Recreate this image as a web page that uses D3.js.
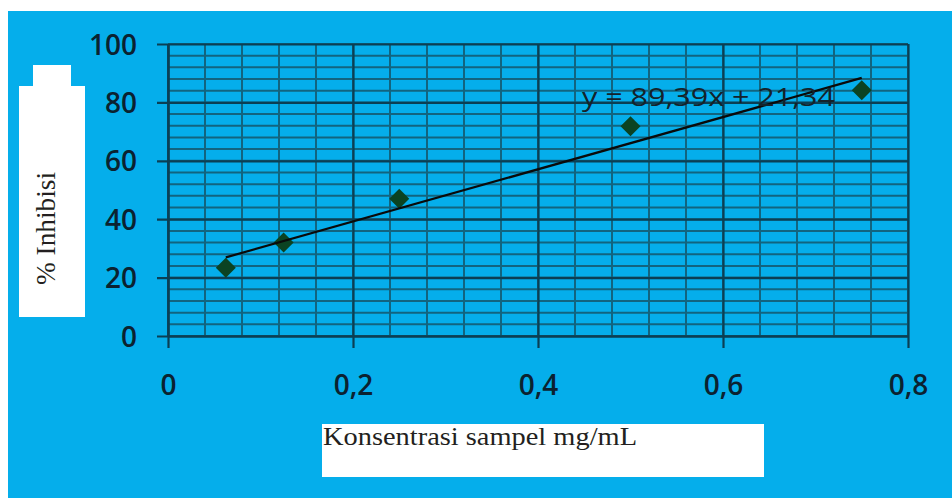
<!DOCTYPE html>
<html>
<head>
<meta charset="utf-8">
<script src="https://cdn.jsdelivr.net/npm/d3@7"></script>
<style>
  html, body { margin: 0; padding: 0; background: #ffffff; }
  svg { display: block; }
</style>
</head>
<body>
<script>
// ---- data ----
const concentrations = [0.0625, 0.125, 0.25, 0.5, 0.75];
const inhibition = [23.4, 32.0, 47.0, 71.8, 84.2];
const trendSlope = 89.39;
const trendIntercept = 21.34;
const equationLabel = "y = 89,39x + 21,34";
const xTickValues = [0, 0.2, 0.4, 0.6, 0.8];
const xTickLabels = ["0", "0,2", "0,4", "0,6", "0,8"];
const yTickValues = [0, 20, 40, 60, 80, 100];
const yTickLabels = ["0", "20", "40", "60", "80", "100"];
const xMinorStep = 0.04;
const yMinorStep = 4;
const xTitle = "Konsentrasi sampel mg/mL";
const yTitle = "% Inhibisi";

(function () {
// ---- layout ----
const W = 952, H = 498;
const pL = 168, pR = 908, pT = 44, pB = 336;

const svg = d3.select("body").append("svg").attr("width", W).attr("height", H);
svg.append("rect").attr("x", 0).attr("y", 0).attr("width", W).attr("height", H).attr("fill", "#ffffff");
svg.append("rect").attr("x", 8).attr("y", 11).attr("width", W - 8).attr("height", H - 11).attr("fill", "#05aeeb");

const x = d3.scaleLinear().domain([0, 0.8]).range([pL, pR]);
const y = d3.scaleLinear().domain([0, 100]).range([pB, pT]);

const minorColor = "#12647f";
const majorColor = "#0b3f54";

// minor grid
const xMinor = d3.range(0, 0.8 + 1e-9, xMinorStep);
const yMinor = d3.range(0, 100 + 1e-9, yMinorStep);
svg.append("g").selectAll("line").data(xMinor).join("line")
  .attr("x1", d => x(d)).attr("x2", d => x(d))
  .attr("y1", pT).attr("y2", pB)
  .attr("stroke", minorColor).attr("stroke-width", 2);
svg.append("g").selectAll("line").data(yMinor).join("line")
  .attr("x1", pL).attr("x2", pR)
  .attr("y1", d => y(d)).attr("y2", d => y(d))
  .attr("stroke", minorColor).attr("stroke-width", 2);

// major axes / grid
const yAxis = d3.axisLeft(y).tickValues(yTickValues)
  .tickFormat((d, i) => yTickLabels[i]).tickSizeOuter(0).tickPadding(0);
const gy = svg.append("g").attr("transform", `translate(${pL},0)`).call(yAxis);
gy.select(".domain").attr("stroke", majorColor).attr("stroke-width", 2.2);
gy.selectAll(".tick line").attr("x1", -11).attr("x2", pR - pL)
  .attr("stroke", majorColor).attr("stroke-width", 2.2);
gy.selectAll(".tick text").attr("x", -31).attr("dy", "0.36em")
  .attr("fill", "#0b2230").attr("font-family", "'Open Sans', sans-serif")
  .attr("font-size", 28).attr("font-weight", 600).attr("text-anchor", "end");

const xAxis = d3.axisBottom(x).tickValues(xTickValues)
  .tickFormat((d, i) => xTickLabels[i]).tickSizeOuter(0);
const gx = svg.append("g").attr("transform", `translate(0,${pB})`).call(xAxis);
gx.select(".domain").attr("stroke", majorColor).attr("stroke-width", 2.2);
gx.selectAll(".tick line").attr("y1", -(pB - pT)).attr("y2", 12)
  .attr("stroke", majorColor).attr("stroke-width", 2.2);
gx.selectAll(".tick text").attr("y", 59).attr("dy", 0)
  .attr("fill", "#0b2230").attr("font-family", "'Open Sans', sans-serif")
  .attr("font-size", 28).attr("font-weight", 600).attr("text-anchor", "middle");

// markers
const pts = concentrations.map((c, i) => ({ c, v: inhibition[i] }));
svg.append("g").selectAll("path").data(pts).join("path")
  .attr("d", d3.symbol().type(d3.symbolSquare).size(200))
  .attr("transform", d => `translate(${x(d.c)},${y(d.v)}) rotate(45)`)
  .attr("fill", "#0b4322");

// trendline
const xs = d3.extent(concentrations);
svg.append("line")
  .attr("x1", x(xs[0])).attr("y1", y(trendSlope * xs[0] + trendIntercept))
  .attr("x2", x(xs[1])).attr("y2", y(trendSlope * xs[1] + trendIntercept))
  .attr("stroke", "#0a0a0a").attr("stroke-width", 2.2);

// equation
svg.append("text").attr("x", 582).attr("y", 106)
  .attr("font-family", "'Open Sans', sans-serif").attr("font-size", 25)
  .attr("font-weight", 500).attr("fill", "#14232b")
  .attr("textLength", 253).attr("lengthAdjust", "spacingAndGlyphs")
  .text(equationLabel);

// y title box
svg.append("rect").attr("x", 19).attr("y", 86).attr("width", 66).attr("height", 231).attr("fill", "#ffffff");
svg.append("rect").attr("x", 33).attr("y", 65).attr("width", 38).attr("height", 22).attr("fill", "#ffffff");
svg.append("text").attr("transform", "translate(55,285) rotate(-90)")
  .attr("font-family", "'Liberation Serif', serif").attr("font-size", 27)
  .attr("fill", "#231f20")
  .attr("textLength", 113).attr("lengthAdjust", "spacingAndGlyphs")
  .text(yTitle);

// x title box
svg.append("rect").attr("x", 322).attr("y", 424).attr("width", 442).attr("height", 53).attr("fill", "#ffffff");
svg.append("text").attr("x", 323).attr("y", 445)
  .attr("font-family", "'Liberation Serif', serif").attr("font-size", 26)
  .attr("fill", "#231f20")
  .attr("textLength", 314).attr("lengthAdjust", "spacingAndGlyphs")
  .text(xTitle);
})();
</script>
</body>
</html>
